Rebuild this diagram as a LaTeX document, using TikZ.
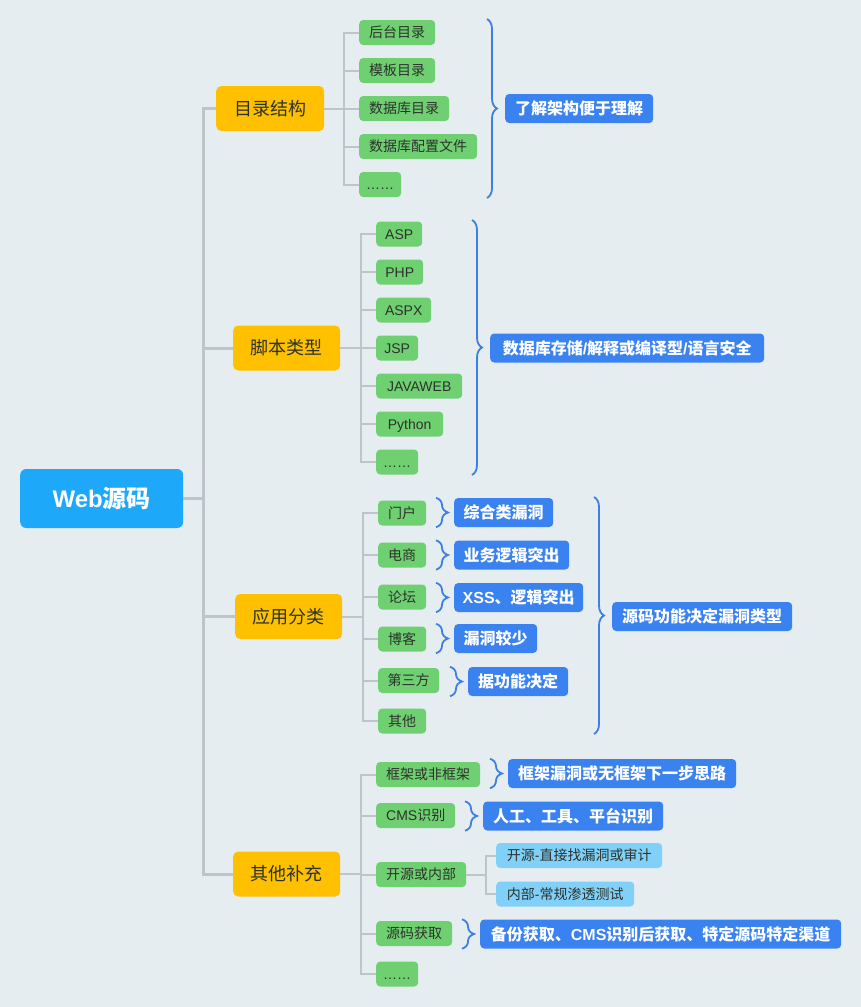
\documentclass[tikz,border=0pt]{standalone}
\usepackage{fontspec}
\setmainfont{Noto Sans CJK SC}
\newfontfamily\lat{Liberation Sans}
\usetikzlibrary{decorations.pathreplacing}
\definecolor{bgc}{RGB}{230,237,241}
\definecolor{rootc}{RGB}{30,168,250}
\definecolor{orc}{RGB}{255,192,0}
\definecolor{grc}{RGB}{110,208,112}
\definecolor{lbc}{RGB}{128,208,248}
\definecolor{blc}{RGB}{58,130,240}
\definecolor{brc}{RGB}{62,128,225}
\definecolor{lnc}{RGB}{190,196,200}
\definecolor{txc}{RGB}{45,50,45}
\tikzset{
  base/.style={anchor=west, inner xsep=0pt, inner ysep=0pt},
  rootn/.style={base, fill=rootc, rounded corners=6pt, minimum height=59pt, text=white, text height=21.1pt, text depth=2.9pt, font=\fontsize{24pt}{28pt}\selectfont\bfseries},
  l1/.style={base, fill=orc, rounded corners=5pt, minimum height=45pt, text=txc, text height=15.8pt, text depth=2.2pt, font=\fontsize{18pt}{22pt}\selectfont},
  l2/.style={base, fill=grc, rounded corners=4pt, minimum height=25pt, text=txc, text height=12.3pt, text depth=1.7pt, font=\fontsize{14pt}{17pt}\selectfont},
  l3/.style={l2, fill=lbc},
  lab/.style={base, fill=blc, rounded corners=4pt, minimum height=29pt, text=white, text height=14.1pt, text depth=1.9pt, font=\fontsize{16pt}{19pt}\selectfont\bfseries},
  trunk/.style={draw=lnc, line width=3pt},
  conn/.style={draw=lnc, line width=2pt},
  bigbr/.style={draw=brc, line width=1.8pt, decorate, decoration={brace, amplitude=10pt}},
  smbr/.style={draw=brc, line width=1.8pt, decorate, decoration={brace, amplitude=12pt}}
}
\begin{document}
\begin{tikzpicture}[x=1pt,y=-1pt]
\fill[bgc] (0,0) rectangle (861,1007);
\useasboundingbox (0,0) rectangle (861,1007);

% root
\node[rootn, minimum width=163] (root) at (20,498.5) {{\lat\bfseries Web}源码};

% level 1
\node[l1, minimum width=108] (d) at (216,108.5) {目录结构};
\node[l1, minimum width=107] (s) at (233,348) {脚本类型};
\node[l1, minimum width=107] (y) at (235,616.5) {应用分类};
\node[l1, minimum width=107] (q) at (233,874) {其他补充};

\coordinate (t) at (203,498.5);
\draw[trunk] (root.east) -- (t);
\foreach \n in {d,s,y,q} \draw[trunk] (t) |- (\n.west);

% group d
\node[l2, minimum width=76] (d1) at (359,32.5) {后台目录};
\node[l2, minimum width=76] (d2) at (359,70.5) {模板目录};
\node[l2, minimum width=90] (d3) at (359,108.5) {数据库目录};
\node[l2, minimum width=118] (d4) at (359,146.5) {数据库配置文件};
\node[l2, minimum width=42] (d5) at (359,184.5) {\lat ……};
\coordinate (dj) at (344,108.5);
\draw[conn] (d.east) -- (dj);
\foreach \n in {d1,d2,d3,d4,d5} \draw[conn] (dj) |- (\n.west);
\node[lab, minimum width=148] (la) at (505,108.5) {了解架构便于理解};
\coordinate (ba1) at (487,19);
\coordinate (ba2) at (487,198);
\draw[bigbr] (ba1) -- (ba2);

% group s
\node[l2, minimum width=46] (s1) at (376,234) {\lat ASP};
\node[l2, minimum width=47] (s2) at (376,272) {\lat PHP};
\node[l2, minimum width=55] (s3) at (376,310) {\lat ASPX};
\node[l2, minimum width=42] (s4) at (376,348) {\lat JSP};
\node[l2, minimum width=86] (s5) at (376,386) {\lat JAVAWEB};
\node[l2, minimum width=67] (s6) at (376,424) {\lat Python};
\node[l2, minimum width=42] (s7) at (376,462) {\lat ……};
\coordinate (sj) at (361,348);
\draw[conn] (s.east) -- (sj);
\foreach \n in {s1,s2,s3,s4,s5,s6,s7} \draw[conn] (sj) |- (\n.west);
\node[lab, minimum width=274] (lb) at (490,348) {数据库存储{\lat\bfseries /}解释或编译型{\lat\bfseries /}语言安全};
\coordinate (bb1) at (472,220);
\coordinate (bb2) at (472,475);
\draw[bigbr] (bb1) -- (bb2);

% group y
\node[l2, minimum width=48] (y1) at (378,513) {门户};
\node[l2, minimum width=48] (y2) at (378,555) {电商};
\node[l2, minimum width=48] (y3) at (378,597) {论坛};
\node[l2, minimum width=48] (y4) at (378,639) {博客};
\node[l2, minimum width=61] (y5) at (378,680.5) {第三方};
\node[l2, minimum width=48] (y6) at (378,721) {其他};
\coordinate (yj) at (363,616.5);
\draw[conn] (y.east) -- (yj);
\foreach \n in {y1,y2,y3,y4,y5,y6} \draw[conn] (yj) |- (\n.west);
\node[lab, minimum width=99] (ly1) at (454,512.5) {综合类漏洞};
\node[lab, minimum width=115] (ly2) at (454,555) {业务逻辑突出};
\node[lab, minimum width=129] (ly3) at (454,597.5) {{\lat\bfseries XSS}、逻辑突出};
\node[lab, minimum width=83] (ly4) at (454,638.5) {漏洞较少};
\node[lab, minimum width=100] (ly5) at (468,681.5) {据功能决定};
\foreach \n in {ly1,ly2,ly3,ly4,ly5}
  \draw[smbr] ([xshift=-18pt]\n.north west) -- ([xshift=-18pt]\n.south west);
\node[lab, minimum width=180] (lc) at (612,616.5) {源码功能决定漏洞类型};
\coordinate (bc1) at (594,497);
\coordinate (bc2) at (594,734);
\draw[bigbr] (bc1) -- (bc2);

% group q
\node[l2, minimum width=104] (q1) at (376,774.5) {框架或非框架};
\node[l2, minimum width=79] (q2) at (376,815.5) {{\lat CMS}识别};
\node[l2, minimum width=90] (q3) at (376,874.5) {开源或内部};
\node[l2, minimum width=76] (q4) at (376,933.5) {源码获取};
\node[l2, minimum width=42] (q5) at (376,974) {\lat ……};
\coordinate (qj) at (361,874);
\draw[conn] (q.east) -- (qj);
\foreach \n in {q1,q2,q3,q4,q5} \draw[conn] (qj) |- (\n.west);
\node[l3, minimum width=166] (q31) at (496,855.5) {开源{\lat -}直接找漏洞或审计};
\node[l3, minimum width=138] (q32) at (496,894) {内部{\lat -}常规渗透测试};
\coordinate (q3j) at (486,874.5);
\draw[conn] (q3.east) -- (q3j);
\foreach \n in {q31,q32} \draw[conn] (q3j) |- (\n.west);
\node[lab, minimum width=228] (lq1) at (508,773.5) {框架漏洞或无框架下一步思路};
\node[lab, minimum width=180] (lq2) at (483,816) {人工、工具、平台识别};
\node[lab, minimum width=361] (lq4) at (480,934) {备份获取、{\lat\bfseries CMS}识别后获取、特定源码特定渠道};
\foreach \n in {lq1,lq2,lq4}
  \draw[smbr] ([xshift=-18pt]\n.north west) -- ([xshift=-18pt]\n.south west);
\end{tikzpicture}
\end{document}
